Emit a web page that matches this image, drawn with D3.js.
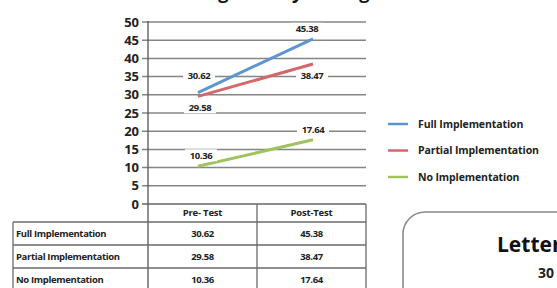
<!DOCTYPE html>
<html><head><meta charset="utf-8">
<script src="https://cdn.jsdelivr.net/npm/d3@7"></script>
<style>
html,body{margin:0;padding:0;background:#fff;}
svg{display:block;font-family:"Open Sans",sans-serif;}
</style></head>
<body>
<svg id="c" width="557" height="288"></svg>
<script>
// ---- data ----
const title = "Letter Naming Fluency Average Growth";
const categories = ["Pre- Test", "Post-Test"];
const seriesNames = ["Full Implementation", "Partial Implementation", "No Implementation"];
const fullValues = [30.62, 45.38];
const partialValues = [29.58, 38.47];
const noValues = [10.36, 17.64];
const yTicks = [0, 5, 10, 15, 20, 25, 30, 35, 40, 45, 50];
const sideTitle = "Letter Naming Fluency";
const sideValue = "30";

// ---- layout / style ----
const colors = ["#5d95d0", "#d4676b", "#a0c35f"];
const seriesValues = [fullValues, partialValues, noValues];
// label offsets (dx, dy) relative to each point, per series, per category
const labelOffsets = [
  [[1, -17], [-6, -10]],
  [[2, 11], [-1, 12]],
  [[3, -11], [0, -10]]
];

const svg = d3.select("#c");
const plotLeft = 148, plotRight = 366, plotTop = 22, plotBottom = 204;

const y = d3.scaleLinear().domain([0, 50]).range([plotBottom, plotTop]);
const xPt = d3.scalePoint().domain(categories).range([198, 313]);
const xBand = d3.scaleBand().domain(categories).range([plotLeft, plotRight]);

// title (mostly cut off above the view, as in the reference)
svg.append("text").attr("x", 275).attr("y", -1).attr("text-anchor", "middle")
  .attr("font-size", 18).attr("font-weight", 700).attr("fill", "#111").text(title);

// gridlines
svg.append("g").selectAll("line").data(yTicks).join("line")
  .attr("x1", plotLeft - 6).attr("x2", plotRight)
  .attr("y1", d => y(d)).attr("y2", d => y(d))
  .attr("stroke", d => d === 0 ? "#666" : "#858585").attr("stroke-width", 1.5);

// y axis labels
svg.append("g").selectAll("text").data(yTicks).join("text")
  .attr("x", 139).attr("y", d => y(d)).attr("dy", "0.36em")
  .attr("text-anchor", "end").attr("font-size", 13).attr("font-weight", 700)
  .attr("fill", "#222").text(d => d);

// y axis line (continues through the table)
svg.append("line").attr("x1", plotLeft).attr("x2", plotLeft)
  .attr("y1", plotTop - 1).attr("y2", 292).attr("stroke", "#555").attr("stroke-width", 1.3);

// lines
const line = d3.line().x((d, i) => xPt(categories[i])).y(d => y(d));
svg.append("g").selectAll("path").data(seriesValues).join("path")
  .attr("d", d => line(d)).attr("fill", "none")
  .attr("stroke", (d, i) => colors[i]).attr("stroke-width", 3).attr("stroke-linecap", "butt");

// data labels with white background
const fmt = d3.format(".2f");
const labelData = [];
seriesValues.forEach((vals, s) => vals.forEach((v, c) => labelData.push({
  v, x: xPt(categories[c]) + labelOffsets[s][c][0], y: y(v) + labelOffsets[s][c][1]
})));
const lg = svg.append("g").selectAll("g").data(labelData).join("g")
  .attr("transform", d => `translate(${d.x},${d.y})`);
lg.append("rect").attr("x", -16).attr("y", -6).attr("width", 32).attr("height", 12).attr("fill", "#fff");
lg.append("text").attr("text-anchor", "middle").attr("dy", "0.35em")
  .attr("font-size", 9.5).attr("font-weight", 700).attr("fill", "#222")
  .attr("letter-spacing", -0.4).text(d => fmt(d.v));

// legend
const leg = svg.append("g").selectAll("g").data(seriesNames).join("g")
  .attr("transform", (d, i) => `translate(388,${124 + i * 26.5})`);
leg.append("line").attr("x1", 0).attr("x2", 20).attr("stroke", (d, i) => colors[i]).attr("stroke-width", 2.5);
leg.append("text").attr("x", 30).attr("dy", "0.35em").attr("font-size", 10.5)
  .attr("font-weight", 700).attr("fill", "#222").attr("letter-spacing", -0.1).text(d => d);

// data table
const tColor = "#6a6a6a";
const headerTop = plotBottom, headerBottom = 222, rowH = 23;
const tableLeft = 13;
const tb = svg.append("g");
// column separators
tb.selectAll("line.v").data(categories).join("line").attr("class", "v")
  .attr("x1", d => xBand(d) + xBand.bandwidth()).attr("x2", d => xBand(d) + xBand.bandwidth())
  .attr("y1", headerTop).attr("y2", 292).attr("stroke", tColor).attr("stroke-width", 1.3);
// left border
tb.append("line").attr("x1", tableLeft).attr("x2", tableLeft).attr("y1", headerBottom).attr("y2", 292)
  .attr("stroke", tColor).attr("stroke-width", 1.3);
// horizontal lines
const hLines = [0, 1, 2, 3].map(i => headerBottom + i * rowH);
tb.selectAll("line.h").data(hLines).join("line").attr("class", "h")
  .attr("x1", tableLeft).attr("x2", plotRight).attr("y1", d => d).attr("y2", d => d)
  .attr("stroke", tColor).attr("stroke-width", 1.3);
// headers
tb.selectAll("text.hd").data(categories).join("text").attr("class", "hd")
  .attr("x", d => xBand(d) + xBand.bandwidth() / 2).attr("y", (headerTop + headerBottom) / 2)
  .attr("dy", "0.35em").attr("text-anchor", "middle").attr("font-size", 9.5).attr("font-weight", 700)
  .attr("letter-spacing", -0.2).attr("fill", "#222").text(d => d);
// row names
tb.selectAll("text.rn").data(seriesNames).join("text").attr("class", "rn")
  .attr("x", tableLeft + 3).attr("y", (d, i) => headerBottom + i * rowH + rowH / 2)
  .attr("dy", "0.35em").attr("font-size", 9.5).attr("font-weight", 700).attr("letter-spacing", -0.35)
  .attr("fill", "#222").text(d => d);
// values
seriesValues.forEach((vals, s) => {
  tb.append("g").selectAll("text").data(vals).join("text")
    .attr("x", (d, c) => xBand(categories[c]) + xBand.bandwidth() / 2)
    .attr("y", headerBottom + s * rowH + rowH / 2).attr("dy", "0.35em")
    .attr("text-anchor", "middle").attr("font-size", 9.5).attr("font-weight", 700)
    .attr("letter-spacing", -0.4).attr("fill", "#222").text(d => fmt(d));
});

// neighbouring chart box (cut off, as in the reference)
svg.append("rect").attr("x", 403).attr("y", 212).attr("width", 220).attr("height", 140)
  .attr("rx", 22).attr("fill", "none").attr("stroke", "#8a8a8a").attr("stroke-width", 1.6);
svg.append("text").attr("x", 497).attr("y", 252).attr("font-size", 21).attr("font-weight", 700)
  .attr("fill", "#111").text(sideTitle);
svg.append("text").attr("x", 538).attr("y", 278).attr("font-size", 14).attr("font-weight", 700)
  .attr("fill", "#222").text(sideValue);
</script>
</body></html>
